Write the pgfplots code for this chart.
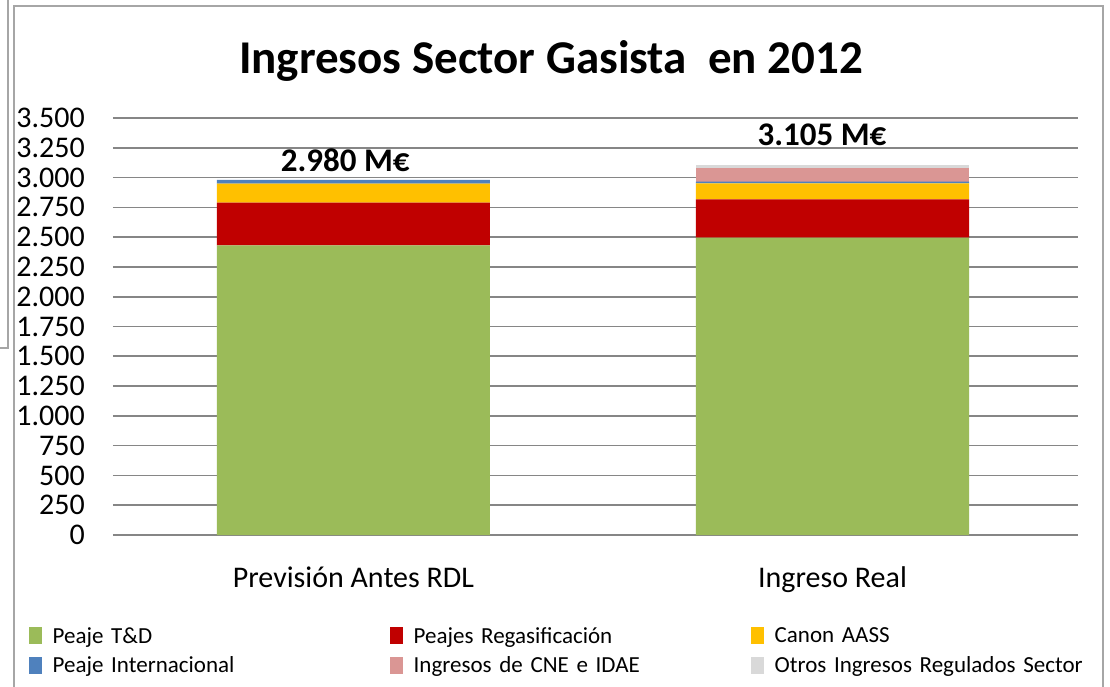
\documentclass[border=0pt]{standalone}
\usepackage{pgfplots}
\pgfplotsset{compat=1.18}
\usepackage{fontspec}
\setmainfont{Carlito}
\newfontfamily\legfont[WordSpace=0.65]{Carlito}
\definecolor{cTD}{HTML}{9BBB59}
\definecolor{cReg}{HTML}{C00000}
\definecolor{cAASS}{HTML}{FFC000}
\definecolor{cInt}{HTML}{4F81BD}
\definecolor{cCNE}{HTML}{DA9694}
\definecolor{cOtr}{HTML}{D9D9D9}
\definecolor{gridgray}{HTML}{868686}
\definecolor{framegray}{HTML}{A6A6A6}
\begin{document}
\begin{tikzpicture}
\useasboundingbox (-113pt,-151pt) rectangle (997pt,535pt);
\draw[framegray, line width=1.5pt] (-99pt,-170pt) -- (-99pt,529pt) -- (990pt,529pt) -- (990pt,-170pt);
\draw[framegray, line width=1.5pt] (-105pt,545pt) -- (-105pt,187pt) -- (-120pt,187pt);
\node[font=\fontsize{47}{52}\selectfont\bfseries] at (438pt,474pt) {Ingresos Sector Gasista\ \ en 2012};
\begin{axis}[
  at={(0,0)}, anchor=south west,
  scale only axis, width=965pt, height=417pt,
  xmin=-0.502, xmax=1.5125, ymin=0, ymax=3500,
  ytick distance=250,
  xtick={0,1}, xticklabels={Previsión Antes RDL, Ingreso Real},
  ymajorgrids, grid style={gridgray, line width=1.6pt},
  axis line style={draw=none}, major tick length=0pt,
  /pgf/number format/.cd, 1000 sep={.}, assume math mode=true, /pgfplots/.cd,
  yticklabel style={anchor=east, xshift=-28pt, inner sep=0pt, font=\fontsize{30}{32}\selectfont},
  xticklabel style={anchor=base, yshift=-52pt, font=\fontsize{30}{32}\selectfont},
  ybar stacked, bar width=0.570,
  legend columns=3,
  legend image code/.code={\fill[#1] (0pt,-8.5pt) rectangle (13pt,8.5pt); \path (22pt,0pt);},
  legend style={draw=none, fill=none, inner sep=0pt,
    at={(axis description cs:-0.0876,-0.2158)}, anchor=north west,
    font=\fontsize{23}{26}\legfont,
    cells={anchor=west},
    /tikz/every even column/.append style={text width=335pt},
    /tikz/column sep=0pt, /tikz/row sep=8pt},
]
\addplot[fill=cTD, draw=none] coordinates {(0,2430) (1,2495)};
\addlegendentry{Peaje T\&D}
\addplot[fill=cReg, draw=none] coordinates {(0,360) (1,323)};
\addlegendentry{Peajes Regasificación}
\addplot[fill=cAASS, draw=none] coordinates {(0,160) (1,134)};
\addlegendentry{Canon AASS}
\addplot[fill=cInt, draw=none] coordinates {(0,30) (1,15)};
\addlegendentry{Peaje Internacional}
\addplot[fill=cCNE, draw=none] coordinates {(0,0) (1,113)};
\addlegendentry{Ingresos de CNE e IDAE}
\addplot[fill=cOtr, draw=none] coordinates {(0,0) (1,25)};
\addlegendentry{Otros Ingresos Regulados Sector}
\node[font=\fontsize{33}{36}\selectfont\bfseries] at (axis cs:-0.017,3147) {2.980 M€};
\node[font=\fontsize{33}{36}\selectfont\bfseries] at (axis cs:0.978,3357) {3.105 M€};
\end{axis}
\end{tikzpicture}
\end{document}
